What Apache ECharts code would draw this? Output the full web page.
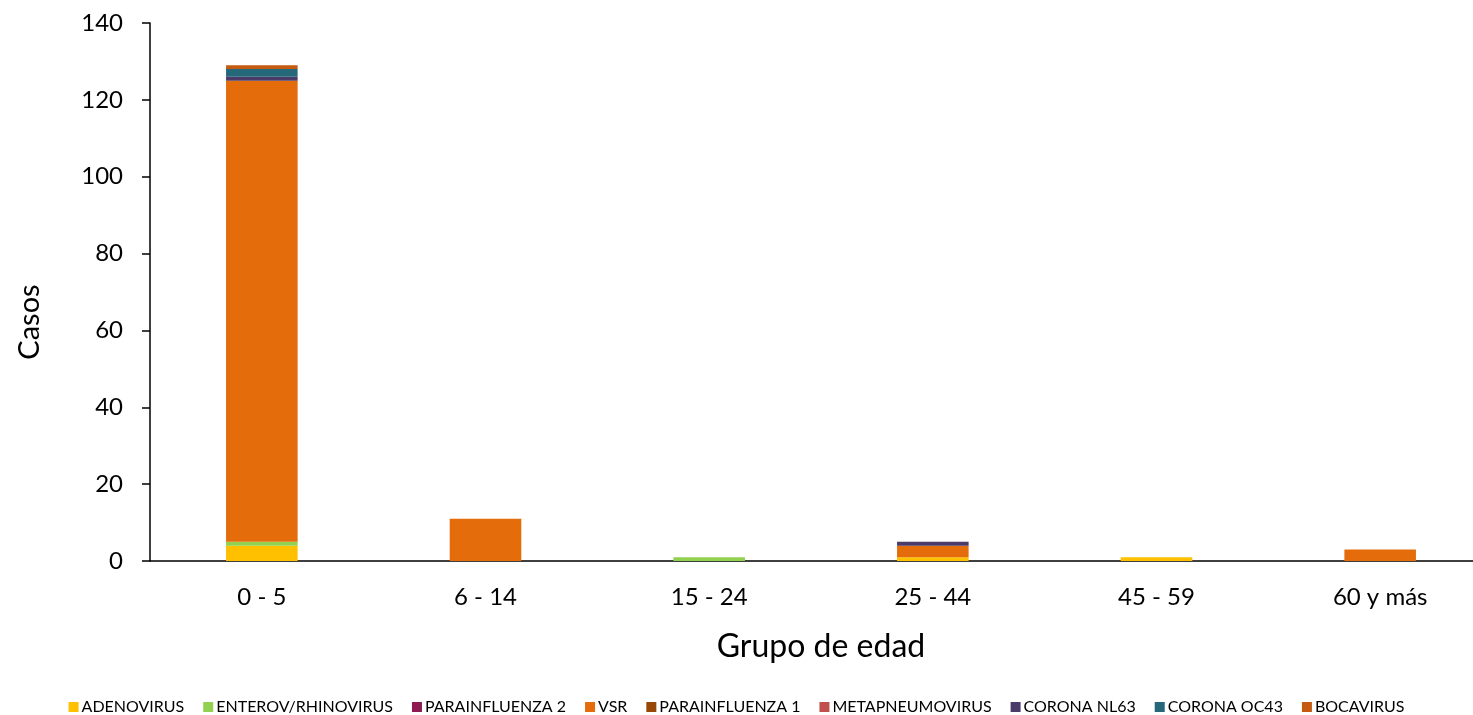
<!DOCTYPE html>
<html>
<head>
<meta charset="utf-8">
<script src="https://cdn.jsdelivr.net/npm/echarts@6/dist/echarts.min.js"></script>
<style>
html,body{margin:0;padding:0;background:#fff;}
#chart{width:1473px;height:715px;}
</style>
</head>
<body>
<div id="chart"></div>
<script>
const categories = ['0 - 5', '6 - 14', '15 - 24', '25 - 44', '45 - 59', '60 y más'];
const seriesNames = ['ADENOVIRUS', 'ENTEROV/RHINOVIRUS', 'PARAINFLUENZA 2', 'VSR', 'PARAINFLUENZA 1', 'METAPNEUMOVIRUS', 'CORONA NL63', 'CORONA OC43', 'BOCAVIRUS'];
const adenovirus = [4, 0, 0, 1, 1, 0];
const enterov = [1, 0, 1, 0, 0, 0];
const parainfluenza2 = [0, 0, 0, 0, 0, 0];
const vsr = [120, 11, 0, 3, 0, 3];
const parainfluenza1 = [0, 0, 0, 0, 0, 0];
const metapneumo = [0, 0, 0, 0, 0, 0];
const coronaNL63 = [1, 0, 0, 1, 0, 0];
const coronaOC43 = [2, 0, 0, 0, 0, 0];
const bocavirus = [1, 0, 0, 0, 0, 0];
const yTicks = [0, 20, 40, 60, 80, 100, 120, 140];

const values = [adenovirus, enterov, parainfluenza2, vsr, parainfluenza1, metapneumo, coronaNL63, coronaOC43, bocavirus];
const colors = ['#FFC000', '#92D050', '#8E1A52', '#E46C0A', '#974706', '#C0504D', '#4A3B69', '#24687A', '#C55A11'];

const chart = echarts.init(document.getElementById('chart'));
const font = 'Lato, "Open Sans", sans-serif';
chart.setOption({
  animation: false,
  textStyle: {fontFamily: font},
  color: colors,
  grid: {left: 150, width: 1342, top: 23, bottom: 154, containLabel: false, outerBoundsMode: 'none'},
  legend: {
    bottom: -5, left: 'center',
    itemWidth: 10, itemHeight: 10, itemGap: 19,
    icon: 'rect',
    textStyle: {fontSize: 16, color: '#000', fontFamily: font, padding: [0, 0, 0, -2]},
    data: seriesNames
  },
  xAxis: {
    type: 'category',
    data: categories,
    name: 'Grupo de edad',
    nameLocation: 'middle',
    nameGap: 70,
    nameTextStyle: {fontSize: 32, color: '#000'},
    axisLine: {lineStyle: {color: '#000', width: 1.5}},
    axisTick: {alignWithLabel: true, length: 6, lineStyle: {color: '#000', width: 1.5}},
    axisLabel: {fontSize: 24, color: '#000', margin: 24}
  },
  yAxis: {
    type: 'value',
    min: 0, max: 140, interval: 20,
    name: 'Casos',
    nameLocation: 'middle',
    nameGap: 106,
    nameTextStyle: {fontSize: 29, color: '#000', padding: [0, 60, 0, 0]},
    splitLine: {show: false},
    axisLine: {show: true, lineStyle: {color: '#000', width: 1.5}},
    axisTick: {show: true, length: 8, lineStyle: {color: '#000', width: 1.5}},
    axisLabel: {fontSize: 24, color: '#000', margin: 27,
      formatter: v => yTicks.includes(v) ? String(v) : ''}
  },
  series: seriesNames.map((name, i) => ({
    name: name,
    type: 'bar',
    stack: 'total',
    barWidth: '32%',
    data: values[i],
    itemStyle: {color: colors[i]}
  }))
});
</script>
</body>
</html>
